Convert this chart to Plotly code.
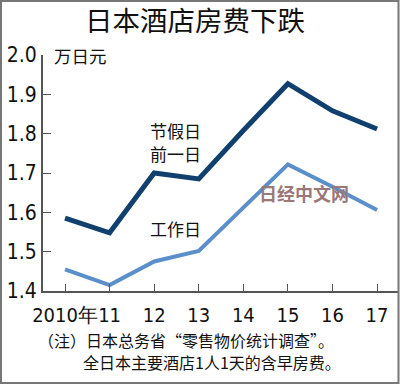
import plotly.graph_objects as go

# ---- data ----
categories = ["2010年", "11", "12", "13", "14", "15", "16", "17"]
holiday_eve = [1.585, 1.548, 1.700, 1.685, 1.808, 1.927, 1.858, 1.812]
workday = [1.455, 1.415, 1.475, 1.502, 1.612, 1.722, 1.665, 1.606]
y_ticks = [1.4, 1.5, 1.6, 1.7, 1.8, 1.9, 2.0]

W, H = 400, 384
L, R, T, B = 43, 2, 55, 93
PW, PH = W - L - R, H - T - B

def px(x):
    return (x - L) / PW

def py(y):
    return (H - B - y) / PH

num_font = "Liberation Sans Narrow, DejaVu Sans Condensed, Arial Narrow, sans-serif"
cjk_font = "Noto Sans CJK SC, Noto Sans, sans-serif"

fig = go.Figure()
xs = list(range(len(categories)))
fig.add_trace(go.Scatter(x=xs, y=holiday_eve, mode="lines",
                         line=dict(color="#12406e", width=5), hoverinfo="skip"))
fig.add_trace(go.Scatter(x=xs, y=workday, mode="lines",
                         line=dict(color="#5b8fca", width=4), hoverinfo="skip"))

fig.update_layout(
    width=W, height=H,
    margin=dict(l=L, r=R, t=T, b=B, autoexpand=False),
    paper_bgcolor="white", plot_bgcolor="white",
    showlegend=False,
    xaxis=dict(range=[-0.494, 7.47], tickmode="array", tickvals=xs, ticktext=categories,
               ticks="inside", ticklen=7, tickcolor="#555", tickwidth=1, tickangle=0,
               automargin=False, ticklabelstandoff=5,
               showline=True, linecolor="#555", linewidth=2, showgrid=False, zeroline=False,
               tickfont=dict(family=num_font, size=20, color="#111")),
    yaxis=dict(range=[1.4, 2.0], tickmode="array", tickvals=y_ticks,
               ticktext=[f"{v:.1f}" for v in y_ticks], automargin=False,
               ticks="inside", ticklen=8, tickcolor="#555", tickwidth=1,
               showline=True, linecolor="#555", linewidth=2, showgrid=False, zeroline=False,
               tickfont=dict(family=num_font, size=21, color="#111")),
)

ann = []
ann.append(dict(text="日本酒店房费下跌", x=px(195), y=py(19), xanchor="center", yanchor="middle",
                font=dict(family=cjk_font, size=27.5, color="#111")))
ann.append(dict(text="万日元", x=px(52), y=py(55), xanchor="left", yanchor="middle",
                font=dict(family=cjk_font, size=17.5, color="#111")))
ann.append(dict(text="节假日", x=px(148), y=py(130), xanchor="left", yanchor="middle",
                font=dict(family=cjk_font, size=17, color="#111")))
ann.append(dict(text="前一日", x=px(148), y=py(153), xanchor="left", yanchor="middle",
                font=dict(family=cjk_font, size=17, color="#111")))
ann.append(dict(text="工作日", x=px(148), y=py(228), xanchor="left", yanchor="middle",
                font=dict(family=cjk_font, size=17, color="#111")))
ann.append(dict(text="（注）日本总务省“零售物价统计调查”。", x=px(36), y=py(340), xanchor="left",
                yanchor="middle", font=dict(family=cjk_font, size=16, color="#111")))
ann.append(dict(text="全日本主要酒店1人1天的含早房费。", x=px(81), y=py(362), xanchor="left",
                yanchor="middle", font=dict(family=cjk_font, size=16, color="#111")))
ann.append(dict(text="<b>日经中文网</b>", x=px(304), y=py(193), xanchor="center", yanchor="middle",
                font=dict(family=cjk_font, size=18, color="#9a7878")))
for a in ann:
    a.update(xref="paper", yref="paper", showarrow=False)
fig.update_layout(annotations=ann)

fig.add_shape(type="rect", xref="paper", yref="paper",
              x0=px(1), x1=px(398.5), y0=py(1), y1=py(383),
              line=dict(color="#777", width=2))

fig.write_html("out.html", config={"displayModeBar": False},
               post_script="document.body.style.margin='0';document.body.style.overflow='hidden';")
